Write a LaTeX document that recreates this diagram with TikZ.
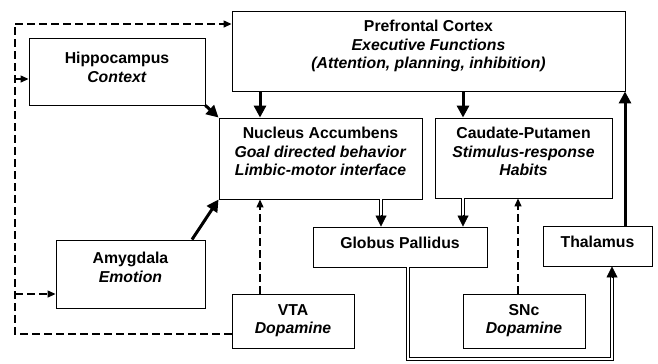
\documentclass[tikz,border=0pt]{standalone}
\usepackage{fontspec}
\setmainfont{Liberation Sans}
\usetikzlibrary{arrows.meta,calc}
\begin{document}
\begin{tikzpicture}[x=1bp,y=-1bp,
  box/.style={draw, line width=0.9bp, inner sep=0pt},
  txt/.style={anchor=north, inner sep=0pt, align=center, font=\fontsize{15.8bp}{18.5bp}\selectfont\bfseries},
  thickarrow/.style={line width=3bp, -{Triangle[length=12bp,width=12bp]}},
  dasharrow/.style={line width=1.3bp, dash pattern=on 8bp off 4bp, -{Triangle[length=8bp,width=7bp]}},
  dashline/.style={line width=1.3bp, dash pattern=on 8bp off 4bp},
  dblline/.style={double, double distance=2.2bp, line width=0.8bp, shorten >=10bp},
  dbltip/.style={line width=0.8bp, -{Triangle[length=11bp,width=11bp]}}
]
\useasboundingbox (0,0) rectangle (658,363);
% boxes
\node[box, minimum width=393bp, minimum height=80bp] (pfc) at (428.5,51) {};
\node[box, minimum width=176bp, minimum height=67bp] (hip) at (117,71.5) {};
\node[box, minimum width=203bp, minimum height=81bp] (nacc) at (320.5,158.5) {};
\node[box, minimum width=177bp, minimum height=80bp] (cp) at (523.5,158) {};
\node[box, minimum width=174bp, minimum height=40bp] (gp) at (400,247) {};
\node[box, minimum width=109bp, minimum height=40bp] (thal) at (597.5,246) {};
\node[box, minimum width=149bp, minimum height=68bp] (amy) at (130.5,274) {};
\node[box, minimum width=122bp, minimum height=54bp] (vta) at (293,321) {};
\node[box, minimum width=122bp, minimum height=54bp] (snc) at (524,321) {};
% texts
\node[txt] (pfcT) at (428.5,20) {Prefrontal Cortex\\\textit{Executive Functions}\\\textit{(Attention, planning, inhibition)}};
\node[txt] (hipT) at (117,52) {Hippocampus\\\textit{Context}};
\node[txt] (naccT) at (320.5,127) {Nucleus Accumbens\\\textit{Goal directed behavior}\\\textit{Limbic-motor interface}};
\node[txt] (cpT) at (523.5,127) {Caudate-Putamen\\\textit{Stimulus-response}\\\textit{Habits}};
\node[txt] (gpT) at (400,237) {Globus Pallidus};
\node[txt] (thalT) at (597.5,236) {Thalamus};
\node[txt] (amyT) at (130.5,252) {Amygdala\\\textit{Emotion}};
\node[txt] (vtaT) at (293,304) {VTA\\\textit{Dopamine}};
\node[txt] (sncT) at (524,304) {SNc\\\textit{Dopamine}};
% coordinates
\coordinate (dl0) at (15,334);
\coordinate (dl1) at (15,24);
\coordinate (dl2) at (15,79);
\coordinate (dl3) at (15,294);
\coordinate (gpd) at (408,359);
\coordinate (thd) at (612,359);
% dopamine projections from VTA
\draw[dashline] (vta.west |- dl0) -- (dl0) -- (dl1);
\draw[dasharrow] (dl1) -- (pfc.west |- dl1);
\draw[dasharrow] (dl2) -- (hip.west |- dl2);
\draw[dasharrow] (dl3) -- (amy.west |- dl3);
\draw[dasharrow] (vta.north -| 260,0) -- (nacc.south -| 260,0);
\draw[dasharrow] (snc.north -| 518,0) -- (cp.south -| 518,0);
% thick arrows
\draw[thickarrow] (hip.south east) -- (nacc.north west);
\draw[thickarrow] (amy.north -| 192,0) -- (nacc.south west);
\draw[thickarrow] (pfc.south -| 260,0) -- (nacc.north -| 260,0);
\draw[thickarrow] (pfc.south -| 463,0) -- (cp.north -| 463,0);
\draw[thickarrow] (thal.north -| 625,0) -- (pfc.south -| 625,0);
% double arrows
\draw[dblline] (nacc.south -| 381,0) -- (gp.north -| 381,0);
\draw[dbltip] ($(gp.north -| 381,0)+(0,-12)$) -- (gp.north -| 381,0);
\draw[dblline] (cp.south -| 463,0) -- (gp.north -| 463,0);
\draw[dbltip] ($(gp.north -| 463,0)+(0,-12)$) -- (gp.north -| 463,0);
\draw[dblline] (gp.south -| gpd) -- (gpd) -- (thd) -- (thal.south -| thd);
\draw[dbltip] ($(thal.south -| thd)+(0,12)$) -- (thal.south -| thd);
\end{tikzpicture}
\end{document}
